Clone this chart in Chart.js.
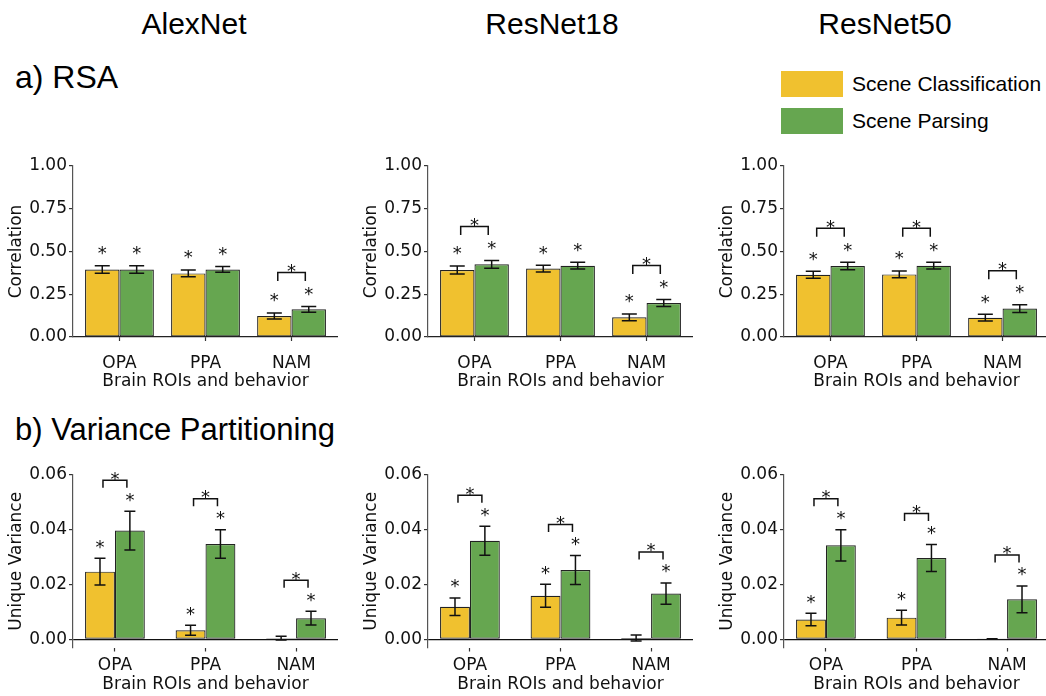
<!DOCTYPE html>
<html>
<head>
<meta charset="utf-8">
<script src="https://cdn.jsdelivr.net/npm/chart.js@4.4.1/dist/chart.umd.min.js"></script>
<style>
  html, body { margin: 0; padding: 0; background: #fff; overflow: hidden; }
  body { position: relative; width: 1046px; height: 696px; font-family: "Liberation Sans", Arial, sans-serif; color: #000; }
  canvas { position: absolute; }
  .txt { position: absolute; line-height: 1; white-space: nowrap; }
  .model { font-size: 30px; width: 240px; text-align: center; top: 8.6px; }
  .section { font-size: 32px; left: 15px; }
  .swatch { position: absolute; left: 781px; width: 62px; height: 26px; }
  .legend-label { position: absolute; left: 852px; font-size: 21px; line-height: 26px; white-space: nowrap; }
</style>
</head>
<body>
  <div class="txt model" style="left:74px">AlexNet</div>
  <div class="txt model" style="left:432px">ResNet18</div>
  <div class="txt model" style="left:765px">ResNet50</div>
  <div class="txt section" style="top:60.9px">a) RSA</div>
  <div class="txt section" style="top:414px; font-size:31px">b) Variance Partitioning</div>

  <div class="swatch" style="top:71px; background:#F0C12F"></div>
  <div class="legend-label" style="top:71px">Scene Classification</div>
  <div class="swatch" style="top:108px; background:#66A650"></div>
  <div class="legend-label" style="top:108px">Scene Parsing</div>

  <canvas id="rsa-alex" width="338" height="242" style="left:0px; top:150px"></canvas>
  <canvas id="rsa-res18" width="338" height="242" style="left:355px; top:150px"></canvas>
  <canvas id="rsa-res50" width="338" height="242" style="left:711px; top:150px"></canvas>
  <canvas id="vp-alex" width="338" height="236" style="left:0px; top:459px"></canvas>
  <canvas id="vp-res18" width="338" height="236" style="left:355px; top:459px"></canvas>
  <canvas id="vp-res50" width="338" height="236" style="left:711px; top:459px"></canvas>

<script>
const categories = ["OPA", "PPA", "NAM"];
const seriesNames = ["Scene Classification", "Scene Parsing"];

// a) RSA: correlation means and error bars
const alexRsaCls = [0.395, 0.372, 0.123];
const alexRsaClsErr = [0.022, 0.02, 0.018];
const alexRsaPar = [0.395, 0.395, 0.162];
const alexRsaParErr = [0.022, 0.017, 0.017];

const res18RsaCls = [0.392, 0.4, 0.115];
const res18RsaClsErr = [0.023, 0.02, 0.02];
const res18RsaPar = [0.425, 0.417, 0.199];
const res18RsaParErr = [0.023, 0.02, 0.02];

const res50RsaCls = [0.364, 0.366, 0.113];
const res50RsaClsErr = [0.02, 0.02, 0.02];
const res50RsaPar = [0.415, 0.417, 0.166];
const res50RsaParErr = [0.022, 0.02, 0.023];

// b) variance partitioning: unique variance means and error bars
const alexVpCls = [0.0247, 0.0033, 0.0004];
const alexVpClsErr = [0.0049, 0.0018, 0.0007];
const alexVpPar = [0.0397, 0.0348, 0.0077];
const alexVpParErr = [0.0071, 0.0052, 0.0025];

const res18VpCls = [0.0119, 0.0159, 0.0005];
const res18VpClsErr = [0.0032, 0.0042, 0.0011];
const res18VpPar = [0.036, 0.0253, 0.0167];
const res18VpParErr = [0.0053, 0.0053, 0.0039];

const res50VpCls = [0.0072, 0.0079, 0.0001];
const res50VpClsErr = [0.0023, 0.0027, 0.0001];
const res50VpPar = [0.0343, 0.0297, 0.0146];
const res50VpParErr = [0.0057, 0.0049, 0.0049];

// significance stars (1 = marked) and between-model brackets
const rsaClsSig = [1, 1, 1];
const rsaParSig = [1, 1, 1];
const alexRsaPairs = [0, 0, 1];
const res18RsaPairs = [1, 0, 1];
const res50RsaPairs = [1, 1, 1];
const vpClsSig = [1, 1, 0];
const vpParSig = [1, 1, 1];
const vpPairs = [1, 1, 1];

const YELLOW = "#F0C12F";
const GREEN = "#66A650";
const TICK_FONT = { family: "DejaVu Sans", size: 17 };

const rows = {
  rsa: {
    yTitle: "Correlation", yMin: 0, yMax: 1, yStep: 0.25,
    xMin: -0.54, xMax: 2.54, catPct: 0.8, xAxisH: 55, xTickPad: 12,
    cap: 7.5, starGap: 17, bracketGap: 17, legLen: 8.5, zeroLine: false,
  },
  vp: {
    yTitle: "Unique Variance", yMin: -0.003, yMax: 0.06, yStep: 0.02,
    xMin: -0.463, xMax: 2.463, catPct: 0.66, xAxisH: 47.5, xTickPad: 3.8,
    cap: 5.5, starGap: 16, bracketGap: 15, legLen: 7.5, zeroLine: true,
  },
};

const panels = [
  { id: "rsa-alex", row: rows.rsa, cls: alexRsaCls, clsErr: alexRsaClsErr, par: alexRsaPar, parErr: alexRsaParErr, clsSig: rsaClsSig, parSig: rsaParSig, pairs: alexRsaPairs },
  { id: "rsa-res18", row: rows.rsa, cls: res18RsaCls, clsErr: res18RsaClsErr, par: res18RsaPar, parErr: res18RsaParErr, clsSig: rsaClsSig, parSig: rsaParSig, pairs: res18RsaPairs },
  { id: "rsa-res50", row: rows.rsa, cls: res50RsaCls, clsErr: res50RsaClsErr, par: res50RsaPar, parErr: res50RsaParErr, clsSig: rsaClsSig, parSig: rsaParSig, pairs: res50RsaPairs },
  { id: "vp-alex", row: rows.vp, cls: alexVpCls, clsErr: alexVpClsErr, par: alexVpPar, parErr: alexVpParErr, clsSig: vpClsSig, parSig: vpParSig, pairs: vpPairs },
  { id: "vp-res18", row: rows.vp, cls: res18VpCls, clsErr: res18VpClsErr, par: res18VpPar, parErr: res18VpParErr, clsSig: vpClsSig, parSig: vpParSig, pairs: vpPairs },
  { id: "vp-res50", row: rows.vp, cls: res50VpCls, clsErr: res50VpClsErr, par: res50VpPar, parErr: res50VpParErr, clsSig: vpClsSig, parSig: vpParSig, pairs: vpPairs },
];

function drawStar(ctx, x, cy) {
  ctx.font = '18px "DejaVu Sans"';
  ctx.textAlign = "center";
  ctx.textBaseline = "alphabetic";
  ctx.fillText("*", x, cy + 10.4);
}

// error bars, stars and comparison brackets, placed from the bar elements
function marksPlugin(panel) {
  const row = panel.row;
  return {
    id: "sigMarks",
    afterDatasetsDraw(chart) {
      const ctx = chart.ctx;
      const y = chart.scales.y;
      const metas = [chart.getDatasetMeta(0), chart.getDatasetMeta(1)];
      const starY = [[], []];
      ctx.save();
      ctx.strokeStyle = "#111";
      ctx.fillStyle = "#111";
      ctx.lineWidth = 1.5;
      metas.forEach((meta, d) => {
        const ds = chart.data.datasets[d];
        meta.data.forEach((bar, i) => {
          const m = ds.data[i].y;
          const e = ds.errors[i];
          const top = y.getPixelForValue(m + e);
          const bot = y.getPixelForValue(m - e);
          ctx.beginPath();
          ctx.moveTo(bar.x, top);
          ctx.lineTo(bar.x, bot);
          ctx.moveTo(bar.x - row.cap, top);
          ctx.lineTo(bar.x + row.cap, top);
          ctx.moveTo(bar.x - row.cap, bot);
          ctx.lineTo(bar.x + row.cap, bot);
          ctx.stroke();
          starY[d][i] = top - row.starGap;
          if (ds.sig[i]) drawStar(ctx, bar.x, starY[d][i]);
        });
      });
      panel.pairs.forEach((p, i) => {
        if (!p) return;
        const a = metas[0].data[i];
        const b = metas[1].data[i];
        const cx = (a.x + b.x) / 2;
        const half = 0.4 * a.width;
        const yb = Math.min(starY[0][i], starY[1][i]) - row.bracketGap;
        ctx.beginPath();
        ctx.moveTo(cx - half, yb + row.legLen);
        ctx.lineTo(cx - half, yb);
        ctx.lineTo(cx + half, yb);
        ctx.lineTo(cx + half, yb + row.legLen);
        ctx.stroke();
        drawStar(ctx, cx, yb - 6);
      });
      ctx.restore();
    },
  };
}

function makeDataset(label, values, errors, sig, color, row) {
  return {
    label,
    data: values.map((v, i) => ({ x: i, y: v })),
    errors,
    sig,
    backgroundColor: color,
    borderColor: "#222",
    borderWidth: 1.2,
    borderSkipped: false,
    categoryPercentage: row.catPct,
    barPercentage: 1,
  };
}

function buildPanel(panel) {
  const row = panel.row;
  new Chart(document.getElementById(panel.id), {
    type: "bar",
    data: {
      datasets: [
        makeDataset(seriesNames[0], panel.cls, panel.clsErr, panel.clsSig, YELLOW, row),
        makeDataset(seriesNames[1], panel.par, panel.parErr, panel.parSig, GREEN, row),
      ],
    },
    options: {
      responsive: false,
      animation: false,
      layout: { padding: { top: 16, left: 0, right: 0, bottom: 0 } },
      scales: {
        x: {
          type: "linear",
          min: row.xMin,
          max: row.xMax,
          offset: false,
          afterFit: (s) => { s.height = row.xAxisH; },
          ticks: {
            stepSize: 1,
            includeBounds: false,
            maxRotation: 0,
            padding: row.xTickPad,
            color: "#111",
            font: TICK_FONT,
            callback: (v) => categories[v] ?? "",
          },
          grid: { drawOnChartArea: false, drawTicks: true, tickLength: 4, tickColor: "#333", tickWidth: 1.2, offset: false },
          border: { display: !row.zeroLine, color: "#222", width: 1.2 },
          title: { display: true, text: "Brain ROIs and behavior", color: "#111", font: TICK_FONT, padding: 0 },
        },
        y: {
          min: row.yMin,
          max: row.yMax,
          afterFit: (s) => { s.width = 73; },
          ticks: {
            stepSize: row.yStep,
            includeBounds: false,
            padding: 2,
            color: "#111",
            font: TICK_FONT,
            callback: (v) => Number(v).toFixed(2),
          },
          grid: {
            drawOnChartArea: row.zeroLine,
            drawTicks: true,
            tickLength: 4,
            tickColor: "#333",
            tickWidth: 1.2,
            lineWidth: 1.2,
            color: (c) => (c.tick && c.tick.value === 0 ? "#111" : "rgba(0,0,0,0)"),
          },
          border: { display: true, color: "#555", width: 1.2 },
          title: { display: true, text: row.yTitle, color: "#111", font: TICK_FONT, padding: { top: 6.8, bottom: 0 } },
        },
      },
      plugins: { legend: { display: false }, tooltip: { enabled: false } },
    },
    plugins: [marksPlugin(panel)],
  });
}

panels.forEach(buildPanel);
</script>
</body>
</html>
